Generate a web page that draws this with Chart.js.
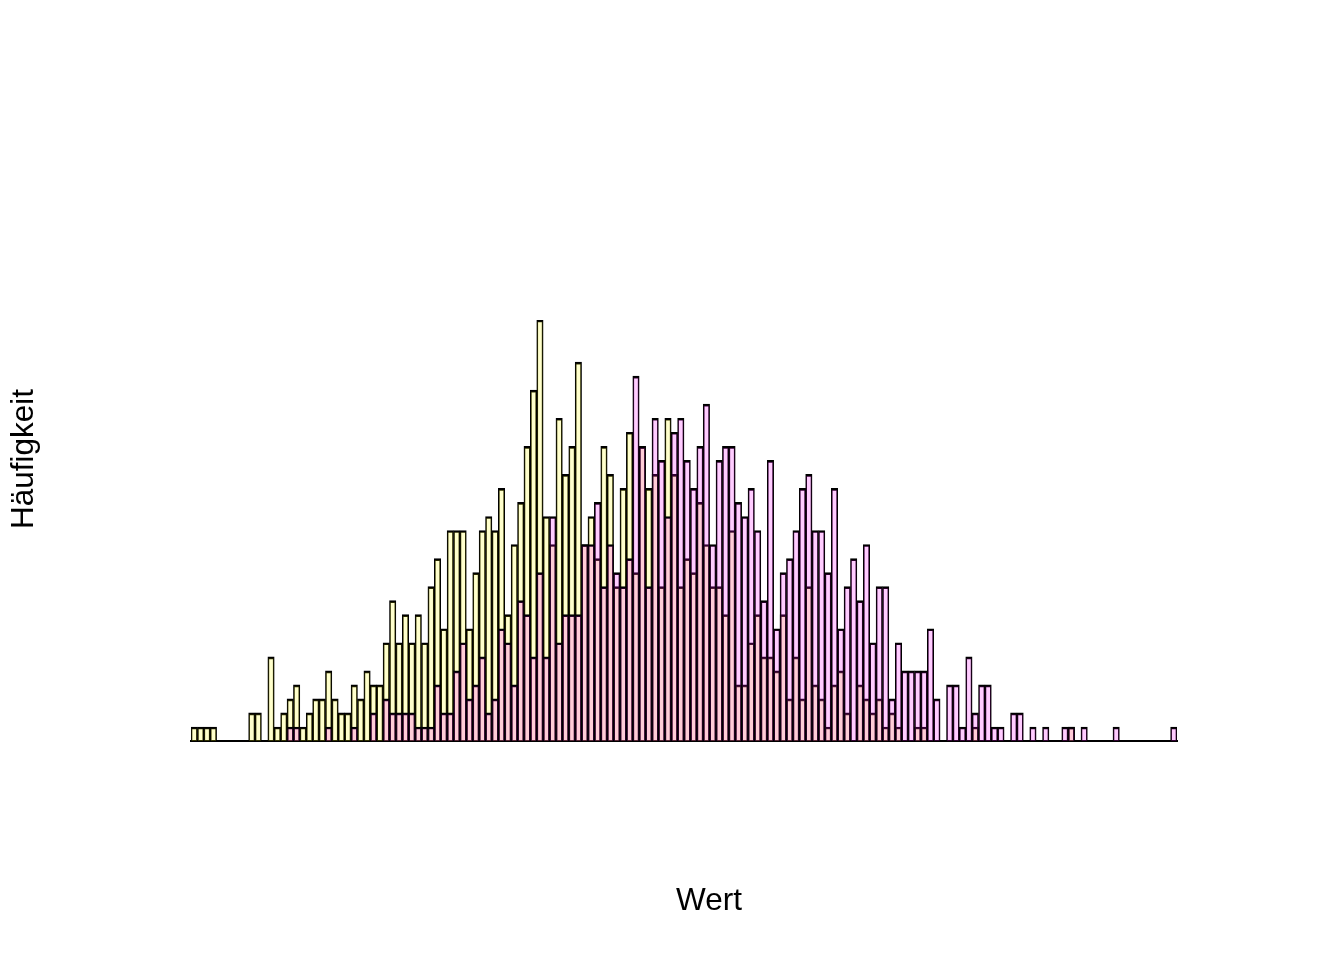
<!DOCTYPE html>
<html>
<head>
<meta charset="utf-8">
<script src="https://cdn.jsdelivr.net/npm/chart.js@4"></script>
<style>
  html, body { margin: 0; padding: 0; background: #ffffff; }
  #wrap { width: 1344px; height: 960px; position: relative; }
</style>
</head>
<body>
<div id="wrap"><canvas id="c"></canvas></div>
<script>
// Counts per histogram bin (same breaks for both series)
const yellowCounts = [
  1,1,1,1,0,0,0,0,0,2,
  2,0,6,1,2,3,4,1,2,3,
  3,5,3,2,2,4,3,5,4,4,
  7,10,7,9,7,9,7,11,13,8,
  15,15,15,8,12,15,16,15,18,9,
  14,17,21,25,30,16,14,23,19,21,
  27,14,16,13,21,19,11,18,22,12,
  21,18,19,11,23,19,11,13,12,17,
  14,11,11,9,15,4,4,7,9,6,
  6,5,9,3,6,3,11,4,3,1,
  4,5,2,0,4,3,2,3,1,2,
  1,0,0,1,1,0,0,0,0,0,
  0,0,1,0,0,0,0,0,0,0,
  0,0,0,0,0,0,0,1,0,0,
  0,0,0,0,0,0,0,0,0,0,
  0,0,0,0
];
const pinkCounts = [
  0,0,0,0,0,0,0,0,0,0,
  0,0,0,0,0,1,1,0,0,0,
  0,1,0,0,0,1,0,0,2,0,
  3,2,2,2,2,1,1,1,4,2,
  2,5,7,3,4,6,2,3,8,7,
  4,10,9,6,12,6,16,7,9,9,
  9,14,14,17,11,14,12,11,13,26,
  21,11,23,20,16,22,23,20,18,21,
  24,14,20,21,21,17,16,18,15,10,
  20,8,12,13,15,18,19,15,15,12,
  18,8,11,13,10,14,7,11,11,3,
  7,5,5,5,5,8,3,0,4,4,
  1,6,2,4,4,1,1,0,2,2,
  0,1,0,1,0,0,1,1,0,1,
  0,0,0,0,1,0,0,0,0,0,
  0,0,0,1
];
const binLabels = yellowCounts.map((_, i) => String(i + 1));
const xTitle = 'Wert';
const yTitle = 'Häufigkeit';
const yMax = 30;

const labelPlugin = {
  id: 'rLabels',
  afterDraw(chart) {
    const ctx = chart.ctx;
    ctx.save();
    ctx.fillStyle = '#000000';
    ctx.font = '31.5px "Liberation Sans", Arial, sans-serif';
    ctx.textAlign = 'center';
    ctx.textBaseline = 'alphabetic';
    ctx.fillText(xTitle, 709, 910);
    ctx.translate(33, 459);
    ctx.rotate(-Math.PI / 2);
    ctx.fillText(yTitle, 0, 0);
    ctx.restore();
  }
};

new Chart(document.getElementById('c'), {
  type: 'bar',
  data: {
    labels: binLabels,
    datasets: [
      {
        label: 'A',
        data: yellowCounts,
        backgroundColor: 'rgba(255,255,0,0.2)',
        borderColor: '#000000',
        borderWidth: { top: 2, left: 1, right: 1, bottom: 0 },
        borderSkipped: 'start',
        grouped: false,
        order: 1,
        categoryPercentage: 1,
        barPercentage: 1
      },
      {
        label: 'B',
        data: pinkCounts,
        backgroundColor: 'rgba(255,0,255,0.2)',
        borderColor: '#000000',
        borderWidth: { top: 2, left: 1, right: 1, bottom: 0 },
        borderSkipped: 'start',
        grouped: false,
        order: 0,
        categoryPercentage: 1,
        barPercentage: 1
      }
    ]
  },
  options: {
    responsive: true,
    maintainAspectRatio: false,
    animation: false,
    events: [],
    layout: { padding: { left: 191, right: 167, top: 320, bottom: 219 } },
    plugins: { legend: { display: false }, tooltip: { enabled: false } },
    scales: {
      x: {
        display: true,
        offset: true,
        grid: { display: false, drawTicks: false },
        ticks: { display: false },
        border: { display: true, color: '#000000', width: 2 }
      },
      y: {
        display: false,
        min: 0,
        max: yMax
      }
    }
  },
  plugins: [labelPlugin]
});
</script>
</body>
</html>
